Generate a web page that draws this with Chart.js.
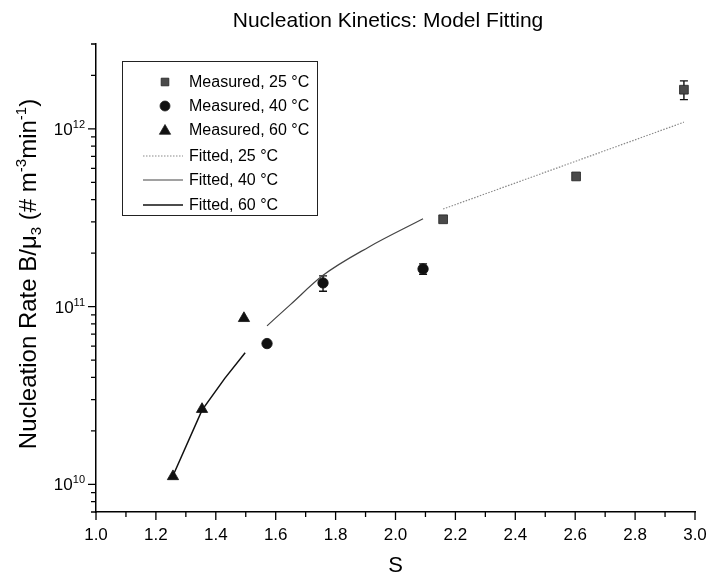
<!DOCTYPE html>
<html>
<head>
<meta charset="utf-8">
<title>Nucleation Kinetics: Model Fitting</title>
<script src="https://cdn.jsdelivr.net/npm/chart.js@4.4.0/dist/chart.umd.min.js"></script>
<style>
    html, body { margin: 0; padding: 0; background: #fff; }
    #wrap { width: 712px; height: 583px; }
</style>
</head>
<body>
<div id="wrap"><canvas id="chart" width="712" height="583"></canvas></div>
<script>
// Measured points (S, B/mu3) with error bar limits
const meas25S = [2.159, 2.603, 2.963];
const meas25B = [3.1e11, 5.4e11, 1.66e12];
const meas25Lo = [3.02e11, 5.27e11, 1.46e12];
const meas25Hi = [3.18e11, 5.53e11, 1.86e12];

const meas40S = [1.571, 1.758, 2.092];
const meas40B = [6.2e10, 1.36e11, 1.63e11];
const meas40Lo = [6.05e10, 1.22e11, 1.52e11];
const meas40Hi = [6.35e10, 1.49e11, 1.74e11];

const meas60S = [1.257, 1.354, 1.494];
const meas60B = [1.11e10, 2.65e10, 8.6e10];

// Fitted curves
const fit25S = [2.159, 2.56, 2.963];
const fit25B = [3.54e11, 6.2e11, 1.09e12];

const fit40S = [1.571, 1.65, 1.758, 1.91, 2.092];
const fit40B = [7.8e10, 1.03e11, 1.5e11, 2.16e11, 3.12e11];

const fit60S = [1.257, 1.354, 1.43, 1.498];
const fit60B = [1.12e10, 2.62e10, 3.95e10, 5.5e10];

// Axis ticks
const xMajorTicks = [1.0, 1.2, 1.4, 1.6, 1.8, 2.0, 2.2, 2.4, 2.6, 2.8, 3.0];
const xTickLabels = ['1.0', '1.2', '1.4', '1.6', '1.8', '2.0', '2.2', '2.4', '2.6', '2.8', '3.0'];
const xMinorTicks = [1.1, 1.3, 1.5, 1.7, 1.9, 2.1, 2.3, 2.5, 2.7, 2.9];
const yMajorTicks = [1e10, 1e11, 1e12];
const yTickExponents = ['10', '11', '12'];

const legendItems = [
    { label: 'Measured, 25 °C', kind: 'rect' },
    { label: 'Measured, 40 °C', kind: 'circle' },
    { label: 'Measured, 60 °C', kind: 'triangle' },
    { label: 'Fitted, 25 °C', kind: 'line', color: '#8a8a8a', dash: [1.5, 1.5], width: 1.2 },
    { label: 'Fitted, 40 °C', kind: 'line', color: '#444', dash: [], width: 1.2 },
    { label: 'Fitted, 60 °C', kind: 'line', color: '#111', dash: [], width: 1.5 }
];

function toPoints(xs, ys) {
    return xs.map((x, i) => ({ x: x, y: ys[i] }));
}

const FONT = '"Liberation Sans", Arial, Helvetica, sans-serif';

// Draws error bars for the measured series (under the markers)
const errorBarPlugin = {
    id: 'errorBars',
    beforeDatasetsDraw(chart) {
        const ctx = chart.ctx;
        const xs = chart.scales.x, ys = chart.scales.y;
        const sets = [
            [meas25S, meas25Lo, meas25Hi],
            [meas40S, meas40Lo, meas40Hi]
        ];
        ctx.save();
        ctx.strokeStyle = '#111';
        ctx.lineWidth = 1.4;
        sets.forEach(([sx, lo, hi]) => {
            sx.forEach((s, i) => {
                const px = xs.getPixelForValue(s);
                const p1 = ys.getPixelForValue(lo[i]);
                const p2 = ys.getPixelForValue(hi[i]);
                ctx.beginPath();
                ctx.moveTo(px, p1); ctx.lineTo(px, p2);
                ctx.moveTo(px - 4, p1); ctx.lineTo(px + 4, p1);
                ctx.moveTo(px - 4, p2); ctx.lineTo(px + 4, p2);
                ctx.stroke();
            });
        });
        ctx.restore();
    }
};

// Ticks, tick labels, axis titles, chart title and legend box
const decorPlugin = {
    id: 'decor',
    afterDraw(chart) {
        const ctx = chart.ctx;
        const xs = chart.scales.x, ys = chart.scales.y;
        const area = chart.chartArea;
        ctx.save();
        ctx.strokeStyle = '#000';
        ctx.fillStyle = '#000';
        ctx.lineWidth = 1.3;

        // x ticks (outward)
        ctx.beginPath();
        xMajorTicks.forEach(v => {
            const px = xs.getPixelForValue(v);
            ctx.moveTo(px, area.bottom); ctx.lineTo(px, area.bottom + 8);
        });
        xMinorTicks.forEach(v => {
            const px = xs.getPixelForValue(v);
            ctx.moveTo(px, area.bottom); ctx.lineTo(px, area.bottom + 5);
        });
        // y ticks (outward)
        yMajorTicks.forEach(v => {
            const py = ys.getPixelForValue(v);
            ctx.moveTo(area.left, py); ctx.lineTo(area.left - 8, py);
        });
        for (let dec = 1e9; dec <= 1e12; dec *= 10) {
            for (let m = 2; m <= 9; m++) {
                const v = m * dec;
                if (v < ys.min || v > ys.max * 1.0001) continue;
                const py = ys.getPixelForValue(v);
                ctx.moveTo(area.left, py); ctx.lineTo(area.left - 5, py);
            }
        }
        ctx.stroke();

        // x tick labels
        ctx.font = '17px ' + FONT;
        ctx.textAlign = 'center';
        ctx.textBaseline = 'alphabetic';
        xMajorTicks.forEach((v, i) => {
            ctx.fillText(xTickLabels[i], xs.getPixelForValue(v), area.bottom + 28);
        });

        // y tick labels: 10 with superscript exponent
        yMajorTicks.forEach((v, i) => {
            const py = ys.getPixelForValue(v);
            ctx.font = '11px ' + FONT;
            const ew = ctx.measureText(yTickExponents[i]).width;
            const right = area.left - 11;
            ctx.textAlign = 'right';
            ctx.fillText(yTickExponents[i], right, py - 1);
            ctx.font = '17px ' + FONT;
            ctx.fillText('10', right - ew, py + 6);
        });

        // x axis title
        ctx.font = '22px ' + FONT;
        ctx.textAlign = 'center';
        ctx.fillText('S', (area.left + area.right) / 2, 572);

        // chart title
        ctx.font = '21px ' + FONT;
        ctx.fillText('Nucleation Kinetics: Model Fitting', 388, 27);

        // y axis title with sub/superscripts
        const big = '24px ' + FONT, small = '15px ' + FONT;
        const parts = [
            { t: 'Nucleation Rate B/\u03bc', f: big, dy: 0 },
            { t: '3', f: small, dy: 5 },
            { t: ' (# m', f: big, dy: 0 },
            { t: '-3', f: small, dy: -10 },
            { t: 'min', f: big, dy: 0 },
            { t: '-1', f: small, dy: -10 },
            { t: ')', f: big, dy: 0 }
        ];
        let total = 0;
        parts.forEach(p => { ctx.font = p.f; p.w = ctx.measureText(p.t).width; total += p.w; });
        ctx.translate(28, 274);
        ctx.rotate(-Math.PI / 2);
        ctx.textAlign = 'left';
        let cx = -total / 2;
        parts.forEach(p => {
            ctx.font = p.f;
            ctx.fillText(p.t, cx, 8 + p.dy);
            cx += p.w;
        });
        ctx.setTransform(1, 0, 0, 1, 0, 0);

        // legend
        ctx.lineWidth = 1;
        ctx.strokeStyle = '#222';
        ctx.strokeRect(122.5, 61.5, 195, 154);
        const rowY = [82, 106, 130, 156, 180, 205];
        legendItems.forEach((it, i) => {
            const y = rowY[i];
            if (it.kind === 'line') {
                ctx.save();
                ctx.strokeStyle = it.color;
                ctx.lineWidth = it.width;
                ctx.setLineDash(it.dash);
                ctx.beginPath();
                ctx.moveTo(143, y); ctx.lineTo(183, y);
                ctx.stroke();
                ctx.restore();
            } else {
                const style = it.kind === 'rect' ? { ps: 'rect', r: 5.4, c: '#4a4a4a' }
                    : it.kind === 'circle' ? { ps: 'circle', r: 5, c: '#111' }
                    : { ps: 'triangle', r: 6.5, c: '#111' };
                ctx.fillStyle = style.c;
                ctx.strokeStyle = '#222';
                ctx.lineWidth = 0.8;
                Chart.helpers.drawPoint(ctx, { pointStyle: style.ps, radius: style.r, borderWidth: 0.8, rotation: 0 }, 165, y + (it.kind === 'triangle' ? 1 : 0));
            }
            ctx.fillStyle = '#000';
            ctx.font = '16px ' + FONT;
            ctx.textAlign = 'left';
            ctx.textBaseline = 'middle';
            ctx.fillText(it.label, 189, y + 1);
        });
        ctx.restore();
    }
};

const ctx = document.getElementById('chart').getContext('2d');
new Chart(ctx, {
    type: 'scatter',
    data: {
        datasets: [
            {
                label: 'Fitted, 25 °C',
                data: toPoints(fit25S, fit25B),
                showLine: true,
                borderColor: '#8a8a8a',
                borderWidth: 1.2,
                borderDash: [1.5, 1.5],
                pointRadius: 0
            },
            {
                label: 'Fitted, 40 °C',
                data: toPoints(fit40S, fit40B),
                showLine: true,
                borderColor: '#444',
                borderWidth: 1.2,
                cubicInterpolationMode: 'monotone',
                pointRadius: 0
            },
            {
                label: 'Fitted, 60 °C',
                data: toPoints(fit60S, fit60B),
                showLine: true,
                borderColor: '#111',
                borderWidth: 1.5,
                pointRadius: 0
            },
            {
                label: 'Measured, 25 °C',
                data: toPoints(meas25S, meas25B),
                pointStyle: 'rect',
                pointRadius: 6.2,
                backgroundColor: '#4a4a4a',
                borderColor: '#222',
                borderWidth: 0.8
            },
            {
                label: 'Measured, 40 °C',
                data: toPoints(meas40S, meas40B),
                pointStyle: 'circle',
                pointRadius: 5.2,
                backgroundColor: '#111',
                borderColor: '#111',
                borderWidth: 0.8
            },
            {
                label: 'Measured, 60 °C',
                data: toPoints(meas60S, meas60B),
                pointStyle: 'triangle',
                pointRadius: 6.5,
                backgroundColor: '#111',
                borderColor: '#111',
                borderWidth: 0.8
            }
        ]
    },
    options: {
        responsive: false,
        animation: false,
        events: [],
        layout: { padding: { top: 44, right: 17, left: 0, bottom: 0 } },
        plugins: {
            legend: { display: false },
            title: { display: false },
            tooltip: { enabled: false }
        },
        scales: {
            x: {
                type: 'linear',
                min: 1.0,
                max: 3.0,
                grid: { display: false, drawTicks: false },
                ticks: { display: false },
                border: { display: true, color: '#000', width: 1.5 },
                afterFit: scale => { scale.height = 71; }
            },
            y: {
                type: 'logarithmic',
                min: 7e9,
                max: 3e12,
                grid: { display: false, drawTicks: false },
                ticks: { display: false },
                border: { display: true, color: '#000', width: 1.5 },
                afterFit: scale => { scale.width = 96; }
            }
        }
    },
    plugins: [errorBarPlugin, decorPlugin]
});
</script>
</body>
</html>
